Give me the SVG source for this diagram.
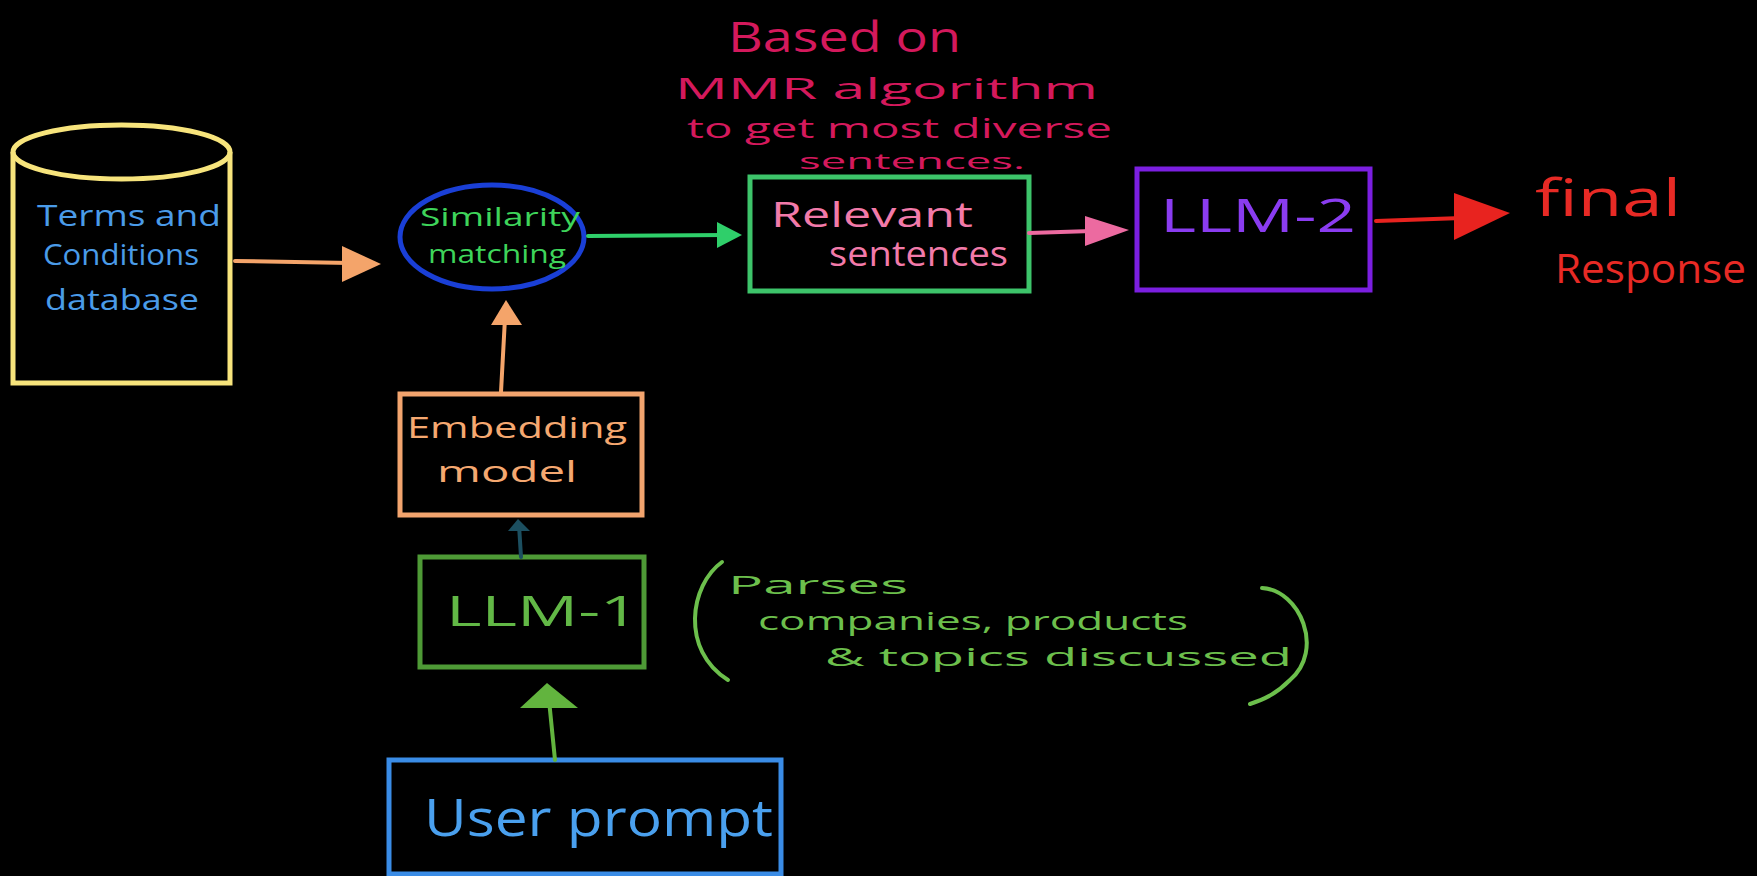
<svg xmlns="http://www.w3.org/2000/svg" width="1757" height="876" viewBox="0 0 1757 876">
<style>
text{font-family:"Open Sans","Liberation Sans",sans-serif;font-weight:400}
.box{fill:none;stroke-width:5}
.ln{fill:none;stroke-width:4;stroke-linecap:round}
</style>
<rect width="1757" height="876" fill="#000"/>
<g id="database">
<path d="M13,152 L13,383 L230,383 L230,152" class="box" stroke="#f7e47c"/>
<ellipse cx="121.5" cy="152" rx="108.5" ry="27" class="box" stroke="#f7e47c"/>
<text x="37" y="226" font-size="30" fill="#4a9be8" textLength="184" lengthAdjust="spacingAndGlyphs">Terms and</text>
<text x="43" y="265" font-size="30" fill="#4a9be8" textLength="156" lengthAdjust="spacingAndGlyphs">Conditions</text>
<text x="45" y="310" font-size="30" fill="#4a9be8" textLength="154" lengthAdjust="spacingAndGlyphs">database</text>
</g>
<g id="similarity">
<ellipse cx="492" cy="237" rx="92" ry="52" fill="none" stroke="#1a3fd6" stroke-width="5"/>
<text x="420" y="226" font-size="25" fill="#3ed45a" textLength="160" lengthAdjust="spacingAndGlyphs">Similarity</text>
<text x="428" y="263" font-size="25" fill="#3ed45a" textLength="138" lengthAdjust="spacingAndGlyphs">matching</text>
</g>
<g id="annotation">
<text x="728" y="52" font-size="42" fill="#d4195c" textLength="233" lengthAdjust="spacingAndGlyphs">Based on</text>
<text x="675" y="99" font-size="30" fill="#d4195c" textLength="423" lengthAdjust="spacingAndGlyphs">MMR   algorithm</text>
<text x="687" y="138" font-size="27" fill="#d4195c" textLength="425" lengthAdjust="spacingAndGlyphs">to get most diverse</text>
<text x="799" y="169" font-size="22" fill="#d4195c" textLength="226" lengthAdjust="spacingAndGlyphs">sentences.</text>
</g>
<g id="relevant">
<rect x="750" y="177" width="279" height="114" class="box" stroke="#3dc46a"/>
<text x="771" y="227" font-size="34" fill="#f27aa9" textLength="202" lengthAdjust="spacingAndGlyphs">Relevant</text>
<text x="829" y="266" font-size="34" fill="#f27aa9" textLength="179" lengthAdjust="spacingAndGlyphs">sentences</text>
</g>
<g id="llm2">
<rect x="1137" y="169" width="233" height="121" class="box" stroke="#7b1fe0"/>
<text x="1160" y="232" font-size="46" fill="#8a3cf0" textLength="196" lengthAdjust="spacingAndGlyphs">LLM-2</text>
</g>
<g id="final">
<text x="1535" y="216" font-size="52" fill="#e82a25" textLength="146" lengthAdjust="spacingAndGlyphs">final</text>
<text x="1555" y="283" font-size="40" fill="#e82a25" textLength="191" lengthAdjust="spacingAndGlyphs">Response</text>
</g>
<g id="embedding">
<rect x="400" y="394" width="242" height="121" class="box" stroke="#f2a46e"/>
<text x="407" y="438" font-size="30" fill="#f5a870" textLength="220" lengthAdjust="spacingAndGlyphs">Embedding</text>
<text x="437" y="482" font-size="30" fill="#f5a870" textLength="140" lengthAdjust="spacingAndGlyphs">model</text>
</g>
<g id="llm1">
<rect x="420" y="557" width="224" height="110" class="box" stroke="#4e9a36"/>
<text x="446" y="626" font-size="42" fill="#62b846" textLength="193" lengthAdjust="spacingAndGlyphs">LLM-1</text>
</g>
<g id="parses-note">
<path d="M722,562 C690,585 680,650 728,680" class="ln" stroke="#6cbf4c"/>
<path d="M1262,588 C1300,590 1325,650 1290,680 C1275,695 1262,700 1250,704" class="ln" stroke="#6cbf4c"/>
<text x="728" y="594" font-size="26" fill="#6cbf4c" textLength="180" lengthAdjust="spacingAndGlyphs">Parses</text>
<text x="758" y="630" font-size="26" fill="#6cbf4c" textLength="430" lengthAdjust="spacingAndGlyphs">companies, products</text>
<text x="825" y="666" font-size="26" fill="#6cbf4c" textLength="467" lengthAdjust="spacingAndGlyphs">&amp; topics discussed</text>
</g>
<g id="user-prompt">
<rect x="389" y="760" width="392" height="114" class="box" stroke="#3a8ce6"/>
<text x="424" y="836" font-size="52" fill="#4aa0ee" textLength="349" lengthAdjust="spacingAndGlyphs">User prompt</text>
</g>
<g id="connectors">
<line x1="235" y1="261" x2="350" y2="263" class="ln" stroke="#f4a46a" stroke-width="3"/>
<polygon points="342,246 381,264 342,282" fill="#f4a46a"/>
<line x1="588" y1="236" x2="725" y2="235" class="ln" stroke="#2fcf6a" stroke-width="5"/>
<polygon points="717,222 742,235 717,248" fill="#2fcf6a"/>
<line x1="1029" y1="233" x2="1092" y2="231" class="ln" stroke="#ec6aa0" stroke-width="4"/>
<polygon points="1085,216 1129,230 1085,246" fill="#ec6aa0"/>
<line x1="1376" y1="221" x2="1462" y2="218" class="ln" stroke="#e8231f" stroke-width="3"/>
<polygon points="1454,193 1510,213 1454,240" fill="#e8231f"/>
<line x1="501" y1="392" x2="505" y2="318" class="ln" stroke="#f4a46a" stroke-width="4"/>
<polygon points="491,325 506,300 522,325" fill="#f4a46a"/>
<line x1="521" y1="557" x2="519" y2="525" class="ln" stroke="#1c4f60" stroke-width="5"/>
<polygon points="508,531 518,519 530,531" fill="#1c4f60"/>
<line x1="555" y1="760" x2="549" y2="700" class="ln" stroke="#62b43e" stroke-width="5"/>
<polygon points="520,708 547,683 578,708" fill="#62b43e"/>
</g>
</svg>
